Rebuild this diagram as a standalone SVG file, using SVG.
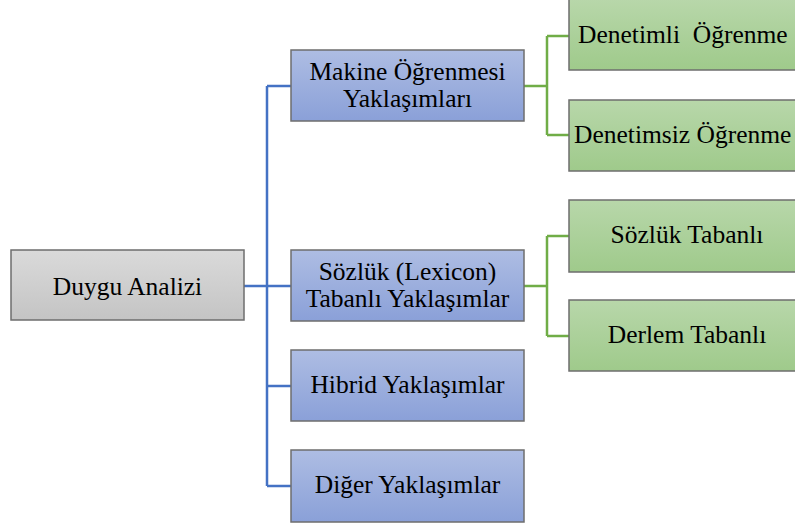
<svg xmlns="http://www.w3.org/2000/svg" width="795" height="526" viewBox="0 0 795 526">
  <defs>
    <linearGradient id="gGray" x1="0" y1="0" x2="0" y2="1">
      <stop offset="0" stop-color="#dadada"/>
      <stop offset="1" stop-color="#c4c4c4"/>
    </linearGradient>
    <linearGradient id="gBlue" x1="0" y1="0" x2="0" y2="1">
      <stop offset="0" stop-color="#aebde3"/>
      <stop offset="1" stop-color="#8aa0d8"/>
    </linearGradient>
    <linearGradient id="gGreen" x1="0" y1="0" x2="0" y2="1">
      <stop offset="0" stop-color="#b8d7aa"/>
      <stop offset="1" stop-color="#9fca8b"/>
    </linearGradient>
  </defs>
  <style>
    .box { stroke: #6e6e6e; stroke-width: 1.5; }
    .root { fill: url(#gGray); }
    .mid { fill: url(#gBlue); }
    .leaf { fill: url(#gGreen); }
    .lbl { font-family: "Liberation Serif", "Times New Roman", serif; font-size: 25.5px; fill: #000; text-anchor: middle; }
    .blue { stroke: #4472c4; stroke-width: 2.5; fill: none; }
    .green { stroke: #70ad47; stroke-width: 2.5; fill: none; }
  </style>
  <rect width="795" height="526" fill="#ffffff"/>

  <!-- connectors -->
  <g id="connectors">
    <path class="blue" d="M244,286 H267 M267,86 V486 M267,86 H291 M267,286 H291 M267,386 H291 M267,486 H291"/>
    <path class="green" d="M524,86 H547 M547,36 V135 M547,36 H569 M547,135 H569"/>
    <path class="green" d="M524,286 H547 M547,236 V336 M547,236 H569 M547,336 H569"/>
  </g>

  <g id="duygu-analizi">
    <rect class="box root" x="11" y="250" width="233" height="70"/>
    <text class="lbl" x="127.5" y="295">Duygu Analizi</text>
  </g>

  <g id="makine-ogrenmesi">
    <rect class="box mid" x="291" y="50" width="233" height="71"/>
    <text class="lbl" x="407.5" y="80">Makine Öğrenmesi</text>
    <text class="lbl" x="407.5" y="107">Yaklaşımları</text>
  </g>

  <g id="sozluk-yaklasimlar">
    <rect class="box mid" x="291" y="250" width="233" height="71"/>
    <text class="lbl" x="407.5" y="280">Sözlük (Lexicon)</text>
    <text class="lbl" x="407.5" y="307">Tabanlı Yaklaşımlar</text>
  </g>

  <g id="hibrid">
    <rect class="box mid" x="291" y="350" width="233" height="71"/>
    <text class="lbl" x="407.5" y="393">Hibrid Yaklaşımlar</text>
  </g>

  <g id="diger">
    <rect class="box mid" x="291" y="450" width="233" height="72"/>
    <text class="lbl" x="407.5" y="493">Diğer Yaklaşımlar</text>
  </g>

  <g id="denetimli">
    <rect class="box leaf" x="569" y="-1" width="236" height="71"/>
    <text class="lbl" x="578" y="43" style="text-anchor:start" xml:space="preserve">Denetimli  Öğrenme</text>
  </g>

  <g id="denetimsiz">
    <rect class="box leaf" x="569" y="100" width="236" height="71"/>
    <text class="lbl" x="574" y="143" style="text-anchor:start">Denetimsiz Öğrenme</text>
  </g>

  <g id="sozluk-tabanli">
    <rect class="box leaf" x="569" y="200" width="236" height="72"/>
    <text class="lbl" x="687" y="243">Sözlük Tabanlı</text>
  </g>

  <g id="derlem-tabanli">
    <rect class="box leaf" x="569" y="300" width="236" height="71"/>
    <text class="lbl" x="687" y="343">Derlem Tabanlı</text>
  </g>
</svg>
